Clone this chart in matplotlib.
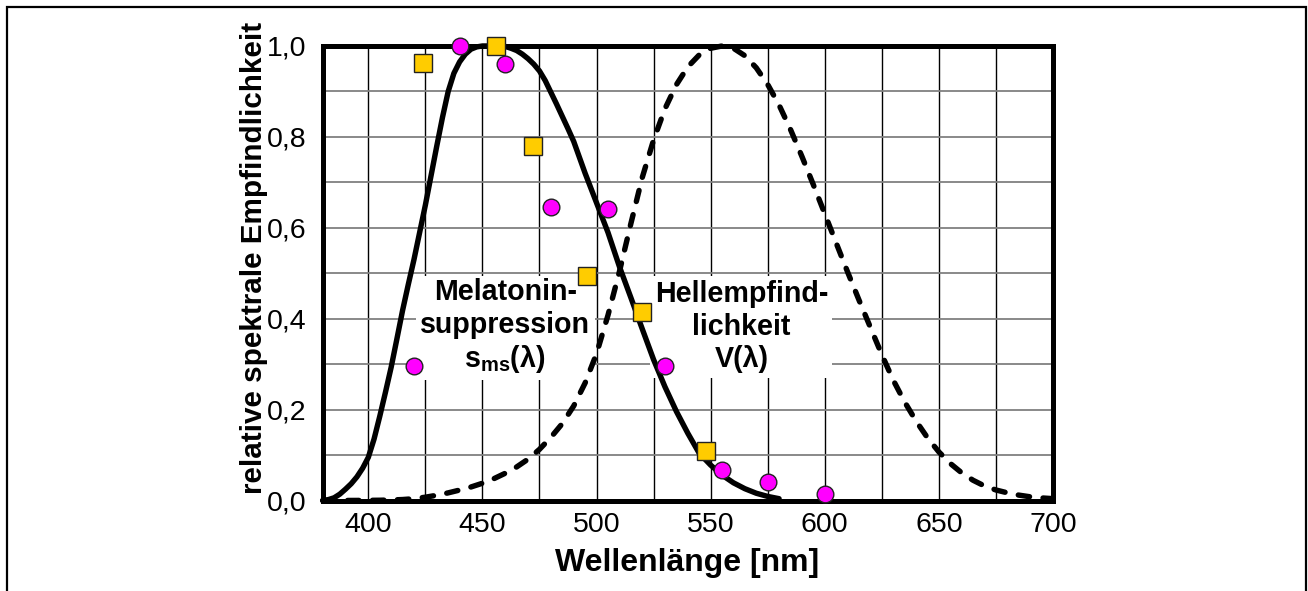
import matplotlib
matplotlib.use('Agg')
import matplotlib.pyplot as plt
from matplotlib.patches import Rectangle
from matplotlib.ticker import MultipleLocator

plt.rcParams['font.family'] = ['Liberation Sans', 'DejaVu Sans']
plt.rcParams['mathtext.fontset'] = 'custom'
plt.rcParams['mathtext.rm'] = 'Liberation Sans:bold'
plt.rcParams['mathtext.default'] = 'rm'

# melatonin suppression curve s_ms(lambda)
wl_ms = [380, 382.5, 385, 387.5, 390, 392.5, 395, 397.5, 400, 402.5, 405,
         407.5, 410, 412.5, 415, 417.5, 420, 422.5, 425, 427.5, 430, 432.5,
         435, 437.5, 440, 442.5, 445, 447.5, 450, 455, 460, 462.5, 465, 467.5,
         470, 472.5, 475, 477.5, 480, 482.5, 485, 487.5, 490, 495, 500, 505,
         510, 515, 520, 525, 530, 535, 540, 545, 550, 555, 560, 565, 570, 575,
         580]
s_ms = [0.0, 0.002, 0.006, 0.014, 0.025, 0.037, 0.052, 0.071, 0.095, 0.135,
        0.185, 0.238, 0.293, 0.355, 0.418, 0.475, 0.53, 0.59, 0.65, 0.715,
        0.78, 0.843, 0.9, 0.94, 0.965, 0.982, 0.993, 0.998, 1.0, 1.0, 0.999,
        0.995, 0.99, 0.982, 0.972, 0.96, 0.945, 0.924, 0.898, 0.872, 0.845,
        0.818, 0.79, 0.72, 0.655, 0.59, 0.515, 0.447, 0.378, 0.31, 0.25,
        0.196, 0.148, 0.104, 0.078, 0.056, 0.039, 0.026, 0.016, 0.009, 0.004]

# photopic luminous efficiency V(lambda)
wl_v = list(range(380, 701, 5))
v_lambda = [0.000039, 0.000064, 0.00012, 0.000217, 0.000396, 0.00064, 0.00121,
            0.00218, 0.004, 0.0073, 0.0116, 0.01684, 0.023, 0.0298, 0.038,
            0.048, 0.06, 0.0739, 0.09098, 0.1126, 0.13902, 0.1693, 0.20802,
            0.2586, 0.323, 0.4073, 0.503, 0.6082, 0.71, 0.7932, 0.862, 0.91485,
            0.954, 0.9803, 0.99495, 1.0, 0.995, 0.9786, 0.952, 0.9154, 0.87,
            0.8163, 0.757, 0.6949, 0.631, 0.5668, 0.503, 0.4412, 0.381, 0.321,
            0.265, 0.217, 0.175, 0.1382, 0.107, 0.0816, 0.061, 0.04458, 0.032,
            0.0232, 0.017, 0.01192, 0.00821, 0.005723, 0.004102]

# measured points (squares and circles)
sq_wl = [424, 456, 472, 496, 520, 548]
sq_val = [0.962, 1.0, 0.78, 0.495, 0.415, 0.108]
ci_wl = [420, 440, 460, 480, 505, 530, 555, 575, 600]
ci_val = [0.297, 1.0, 0.96, 0.646, 0.642, 0.295, 0.068, 0.04, 0.015]

x_ticks = [400, 450, 500, 550, 600, 650, 700]
y_ticks = [0.0, 0.2, 0.4, 0.6, 0.8, 1.0]
y_ticklabels = ['0,0', '0,2', '0,4', '0,6', '0,8', '1,0']

fig = plt.figure(figsize=(13.08, 5.91), dpi=100)
ax = fig.add_axes([0.2467, 0.1531, 0.5583, 0.7691])

# outer frame
fig.patches.append(Rectangle((0.0054, -0.05), 0.9931, 1.038,
                             transform=fig.transFigure, fill=False,
                             edgecolor='black', linewidth=1.6))

ax.set_xlim(380, 700)
ax.set_ylim(0, 1.0)
ax.set_xticks(x_ticks)
ax.xaxis.set_minor_locator(MultipleLocator(25))
ax.set_yticks(y_ticks)
ax.set_yticklabels(y_ticklabels)
ax.yaxis.set_minor_locator(MultipleLocator(0.1))
ax.tick_params(which='both', length=0)
ax.tick_params(axis='x', labelsize=20.5, pad=8)
ax.tick_params(axis='y', labelsize=20.5, pad=12)

ax.grid(axis='x', which='both', color='black', linewidth=1.0)
ax.grid(axis='y', which='both', color='#808080', linewidth=1.3)

for sp in ax.spines.values():
    sp.set_linewidth(3.6)

ax.plot(wl_ms, s_ms, color='black', linewidth=3.9, clip_on=False,
        solid_capstyle='round', solid_joinstyle='round', zorder=2.2)
ax.plot(wl_v, v_lambda, color='black', linewidth=3.9, clip_on=False,
        dashes=(2.1, 2.5), dash_capstyle='round', zorder=2.2)

ax.plot(sq_wl, sq_val, 's', markersize=12.5, markerfacecolor='#FFCC00',
        markeredgecolor='#222222', markeredgewidth=1.0, clip_on=False, zorder=4)
ax.plot(ci_wl, ci_val, 'o', markersize=12, markerfacecolor='#FF00FF',
        markeredgecolor='#222222', markeredgewidth=1.0, clip_on=False, zorder=4)

box = dict(facecolor='white', edgecolor='none', pad=3)
ax.text(460, 0.382, 'Melatonin-\nsuppression\ns$_{ms}$(λ)', ha='center',
        va='center', fontsize=20.6, fontweight='bold', linespacing=1.2,
        bbox=box, zorder=1.8)
ax.text(563.5, 0.382, 'Hellempfind-\nlichkeit\nV(λ)', ha='center',
        va='center', fontsize=20.6, fontweight='bold', linespacing=1.2,
        bbox=box, zorder=1.8)

ax.set_xlabel('Wellenlänge [nm]', fontsize=23, fontweight='bold')
ax.xaxis.set_label_coords(0.4988, -0.105)
ax.set_ylabel('relative spektrale Empfindlichkeit', fontsize=21.3,
              fontweight='bold')
ax.yaxis.set_label_coords(-0.0745, 0.5347)

fig.savefig('out.png', dpi=100)
